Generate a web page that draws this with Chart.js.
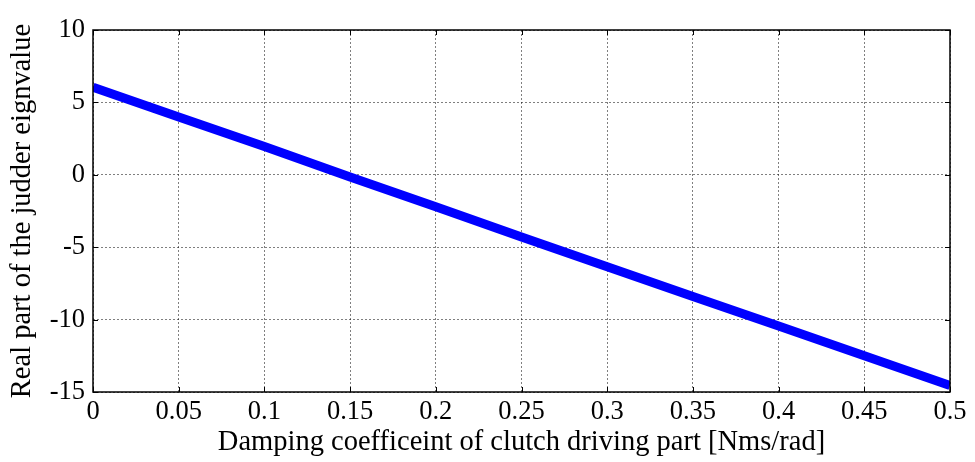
<!DOCTYPE html>
<html>
<head>
<meta charset="utf-8">
<style>
  html, body { margin: 0; padding: 0; background: #fff; }
  #wrap { width: 975px; height: 462px; }
</style>
<script src="https://cdn.jsdelivr.net/npm/chart.js@4.4.1/dist/chart.umd.min.js"></script>
</head>
<body>
<div id="wrap"><canvas id="myChart" width="975" height="462"></canvas></div>
<script>
// values
var dampingValues = [0, 0.05, 0.1, 0.15, 0.2, 0.25, 0.3, 0.35, 0.4, 0.45, 0.5];
var realPartValues = [6.05, 4.0, 1.95, -0.15, -2.2, -4.3, -6.35, -8.4, -10.45, -12.5, -14.55];
var xTicks = [0, 0.05, 0.1, 0.15, 0.2, 0.25, 0.3, 0.35, 0.4, 0.45, 0.5];
var yTicks = [-15, -10, -5, 0, 5, 10];

var serif = "'Liberation Serif', 'Times New Roman', serif";

// frame + inward ticks, like matlab axes
var boxPlugin = {
  id: "box",
  afterDraw: function (chart) {
    var c = chart.ctx, a = chart.chartArea;
    var xs = chart.scales.x, ys = chart.scales.y;
    var len = 5;
    c.save();
    c.strokeStyle = "#000";
    c.lineWidth = 1;
    c.beginPath();
    xTicks.forEach(function (v) {
      var px = Math.round(xs.getPixelForValue(v)) + 0.5;
      c.moveTo(px, a.bottom); c.lineTo(px, a.bottom - len);
      c.moveTo(px, a.top); c.lineTo(px, a.top + len);
    });
    yTicks.forEach(function (v) {
      var py = Math.round(ys.getPixelForValue(v)) + 0.5;
      c.moveTo(a.left, py); c.lineTo(a.left + len, py);
      c.moveTo(a.right, py); c.lineTo(a.right - len, py);
    });
    c.stroke();
    c.lineWidth = 1.5;
    c.strokeRect(a.left, a.top, a.right - a.left, a.bottom - a.top);
    c.restore();
  }
};

var ctx = document.getElementById("myChart").getContext("2d");
var myChart = new Chart(ctx, {
  type: "scatter",
  data: {
    datasets: [{
      data: dampingValues.map(function (x, i) { return { x: x, y: realPartValues[i] }; }),
      showLine: true,
      borderColor: "#0000ff",
      borderWidth: 9,
      pointRadius: 0,
      tension: 0
    }]
  },
  options: {
    responsive: false,
    animation: false,
    layout: { padding: { top: 30, right: 25, left: 0, bottom: 0 } },
    plugins: { legend: { display: false }, tooltip: { enabled: false } },
    scales: {
      x: {
        type: "linear",
        min: 0, max: 0.5,
        afterBuildTicks: function (s) { s.ticks = xTicks.map(function (v) { return { value: v }; }); },
        afterFit: function (s) { s.height = 70; },
        ticks: {
          color: "#000",
          padding: 4,
          maxRotation: 0,
          font: { family: serif, size: 26.5 },
          callback: function (v) { return String(+v.toFixed(2)); }
        },
        grid: { color: "rgba(0,0,0,0.5)", drawTicks: false },
        border: { display: false, dash: [2, 2] },
        title: {
          display: true,
          text: "Damping coefficeint of clutch driving part [Nms/rad]",
          color: "#000",
          font: { family: serif, size: 28.5 },
          padding: { top: 0, bottom: 2 }
        }
      },
      y: {
        type: "linear",
        min: -15, max: 10,
        afterBuildTicks: function (s) { s.ticks = yTicks.map(function (v) { return { value: v }; }); },
        afterFit: function (s) { s.width = 93; },
        ticks: {
          color: "#000",
          padding: 8,
          font: { family: serif, size: 26.5 }
        },
        grid: { color: "rgba(0,0,0,0.5)", drawTicks: false },
        border: { display: false, dash: [2, 2] },
        title: {
          display: true,
          text: "Real part of the judder eignvalue",
          color: "#000",
          font: { family: serif, size: 28.5 },
          padding: { top: 5, bottom: 0 }
        }
      }
    }
  },
  plugins: [boxPlugin]
});
</script>
</body>
</html>
